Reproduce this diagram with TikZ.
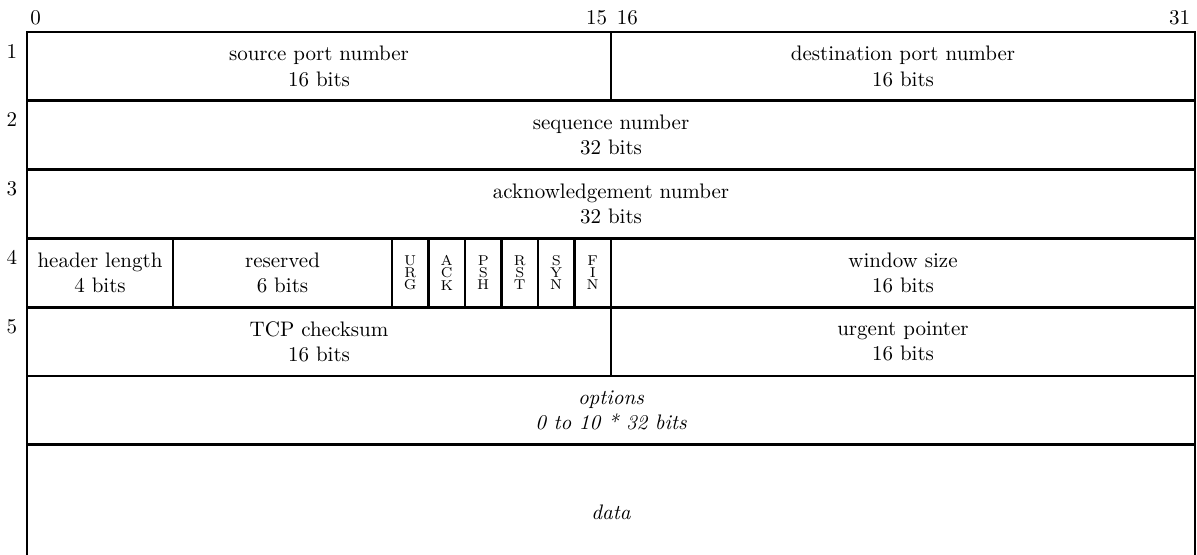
\documentclass[tikz,border=0pt]{standalone}
\begin{document}
\begin{tikzpicture}[x=17.381pt, y=-32.76pt,
  frame/.style={line width=1.4pt},
  field/.style={align=center, inner sep=0pt},
  flag/.style={align=center, font=\fontsize{6.8}{5.8}\selectfont, inner sep=0pt},
  bitno/.style={anchor=base, inner sep=0pt},
  rowno/.style={anchor=base east, inner sep=0pt}]
\useasboundingbox (-0.7397,-0.4651) rectangle (32.055,7.6017);

% header rows, one bit per x unit, one 32-bit word per y unit
\foreach \r in {1,...,6}
  \draw[frame] (0,\r-1) rectangle (32,\r);
% data section, open at the bottom
\draw[frame] (0,7.6017) -- (0,6) -- (32,6) -- (32,7.6017);

% field dividers
\draw[frame] (16,0) -- (16,1);
\foreach \b in {4,10,11,12,13,14,15,16}
  \draw[frame] (\b,3) -- (\b,4);
\draw[frame] (16,4) -- (16,5);

% bit numbers
\node[bitno, anchor=base west] (b0) at (0.08,-0.116) {0};
\node[bitno, anchor=base east] (b15) at (15.904,-0.116) {15};
\node[bitno, anchor=base west] (b16) at (16.15,-0.116) {16};
\node[bitno, anchor=base east] (b31) at (31.877,-0.116) {31};

% word numbers
\foreach \r in {1,...,5}
  \node[rowno] (w\r) at (-0.26,\r-1+0.38) {\r};

% fields
\node[field] (srcport) at (8,0.5) {source port number\\16 bits};
\node[field] (dstport) at (24,0.5) {destination port number\\16 bits};
\node[field] (seqno) at (16,1.5) {sequence number\\32 bits};
\node[field] (ackno) at (16,2.5) {acknowledgement number\\32 bits};
\node[field] (hlen) at (2,3.5) {header length\\4 bits};
\node[field] (resv) at (7,3.5) {reserved\\6 bits};
\node[flag] (furg) at (10.5,3.5) {U\\R\\G};
\node[flag] (fack) at (11.5,3.5) {A\\C\\K};
\node[flag] (fpsh) at (12.5,3.5) {P\\S\\H};
\node[flag] (frst) at (13.5,3.5) {R\\S\\T};
\node[flag] (fsyn) at (14.5,3.5) {S\\Y\\N};
\node[flag] (ffin) at (15.5,3.5) {F\\I\\N};
\node[field] (win) at (24,3.5) {window size\\16 bits};
\node[field] (csum) at (8,4.5) {TCP checksum\\16 bits};
\node[field] (urgp) at (24,4.5) {urgent pointer\\16 bits};
\node[field, font=\itshape] (opts) at (16,5.5) {options\\0 to 10 * 32 bits};
\node[field, font=\itshape] (data) at (16,6.98) {data};
\end{tikzpicture}
\end{document}
